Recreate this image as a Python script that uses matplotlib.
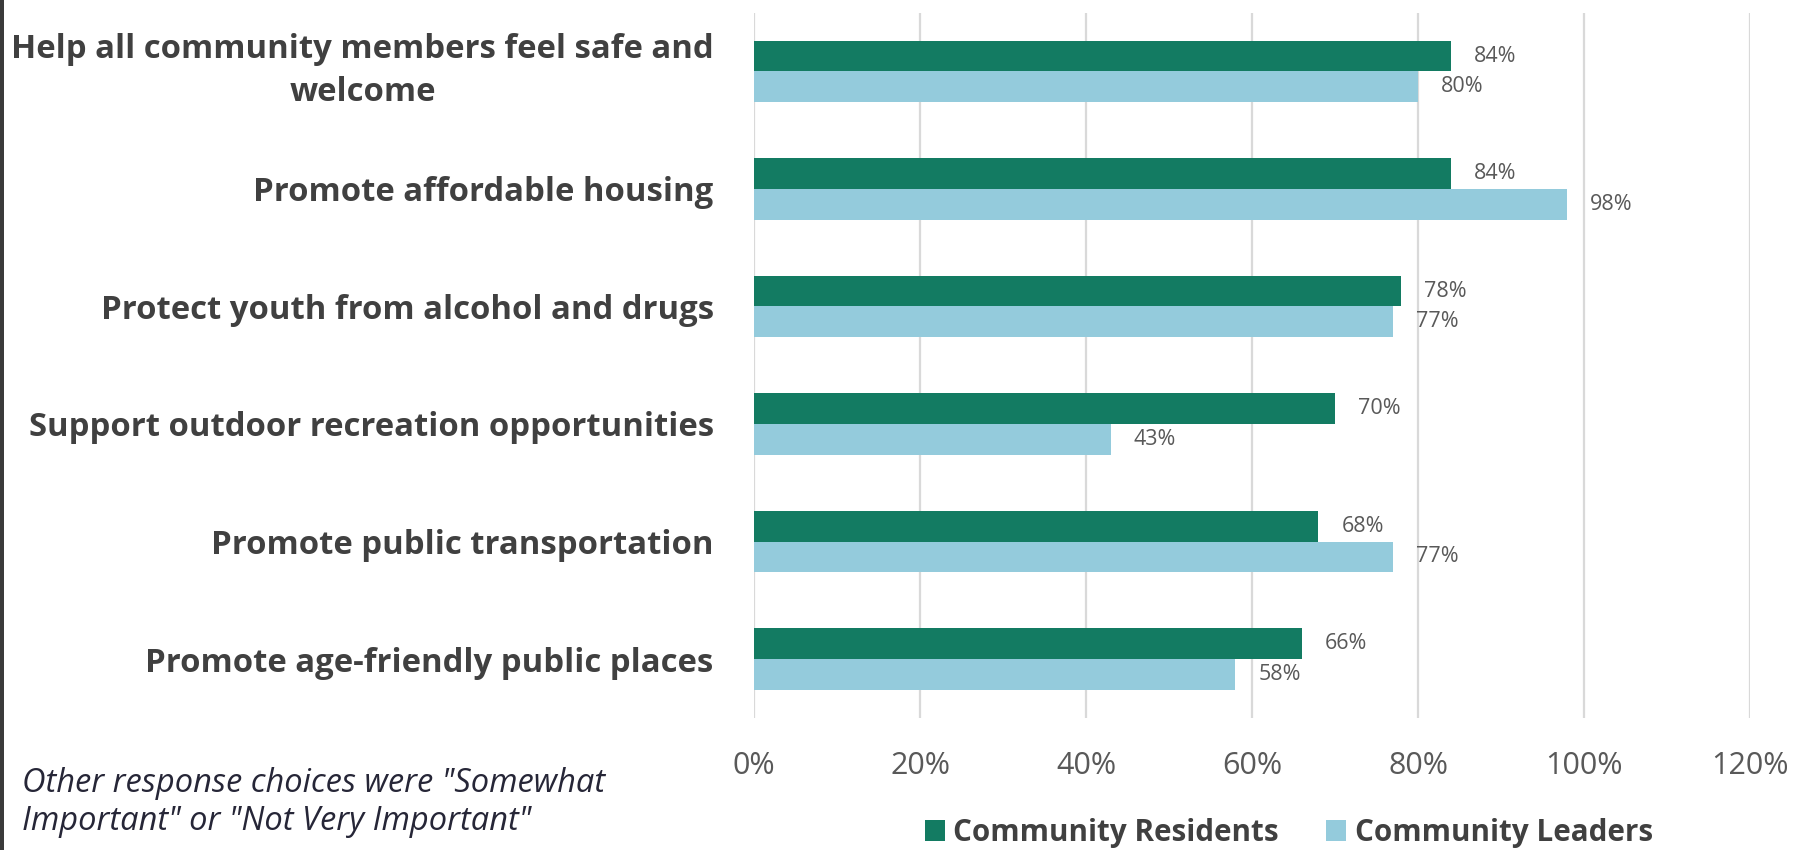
import matplotlib
matplotlib.use("Agg")
import matplotlib.pyplot as plt
from matplotlib.patches import Rectangle, Patch
from matplotlib.ticker import FuncFormatter
import numpy as np

# Survey priorities, share rating each "Very Important"
categories = ["Help all community members feel safe and\nwelcome",
              "Promote affordable housing",
              "Protect youth from alcohol and drugs",
              "Support outdoor recreation opportunities",
              "Promote public transportation",
              "Promote age-friendly public places"]
residents  = [84, 84, 78, 70, 68, 66]
leaders    = [80, 98, 77, 43, 77, 58]
series     = ["Community Residents", "Community Leaders"]
xticks     = [0, 20, 40, 60, 80, 100, 120]
note       = 'Other response choices were "Somewhat\nImportant" or "Not Very Important"'

green = "#137b62"
blue  = "#94cbdc"
grid  = "#d9d9d9"
fnt   = "Open Sans"

fig = plt.figure(figsize=(17.96, 8.5), dpi=100)
fig.patch.set_facecolor("white")
ax = fig.add_axes([754/1796, 1-717.75/850, 996/1796, 705/850])

y  = np.arange(len(categories))
bh = 0.26
ax.barh(y - bh/2, residents, height=bh, color=green, zorder=3)
ax.barh(y + bh/2, leaders,   height=bh, color=blue,  zorder=3)

for yy, v in zip(y - bh/2, residents):
    ax.annotate("%d%%" % v, (v, yy), xytext=(16.5, 0), textcoords="offset points",
                va="center", ha="left", fontsize=15.5, color="#595959", family=fnt)
for yy, v in zip(y + bh/2, leaders):
    ax.annotate("%d%%" % v, (v, yy), xytext=(16.5, 0), textcoords="offset points",
                va="center", ha="left", fontsize=15.5, color="#595959", family=fnt)

ax.set_xlim(0, 120)
ax.set_ylim(len(categories) - 0.5, -0.5)
ax.set_xticks(xticks)
ax.xaxis.set_major_formatter(FuncFormatter(lambda v, p: "%d%%" % v))
ax.set_yticks(y)
ax.set_yticklabels(categories, fontsize=23.7, fontweight="bold", color="#404040",
                   family=fnt, ha="right", multialignment="center", linespacing=1.4)
# two-line labels sit centred on their group
for lbl in ax.get_yticklabels():
    if "\n" in lbl.get_text():
        lbl.set_verticalalignment("center")
ax.tick_params(axis="y", length=0, pad=29)
ax.tick_params(axis="x", length=0, pad=24, labelsize=22, labelcolor="#595959")
for lbl in ax.get_xticklabels():
    lbl.set_family(fnt)
ax.grid(axis="x", color=grid, linewidth=1.6, zorder=0)
for s in ax.spines.values():
    s.set_visible(False)

# legend under the plot
handles = [Patch(facecolor=green, edgecolor="none"), Patch(facecolor=blue, edgecolor="none")]
fig.legend(handles, series, loc="center", bbox_to_anchor=(1289/1796, 1-833/850),
           ncol=2, frameon=False, handlelength=0.65, handleheight=0.7,
           handletextpad=0.3, columnspacing=1.6,
           prop={"family": fnt, "weight": "bold", "size": 21.3}, labelcolor="#404040")

fig.text(22/1796, 1-803/850, note, ha="left", va="center", fontsize=23.5,
         style="italic", family=fnt, color="#262637", linespacing=1.2)

# dark strip on the left edge
fig.patches.append(Rectangle((0, 0), 4/1796, 1, transform=fig.transFigure,
                             facecolor="#3a3a3a", edgecolor="none"))

fig.savefig("out.png", dpi=100)
